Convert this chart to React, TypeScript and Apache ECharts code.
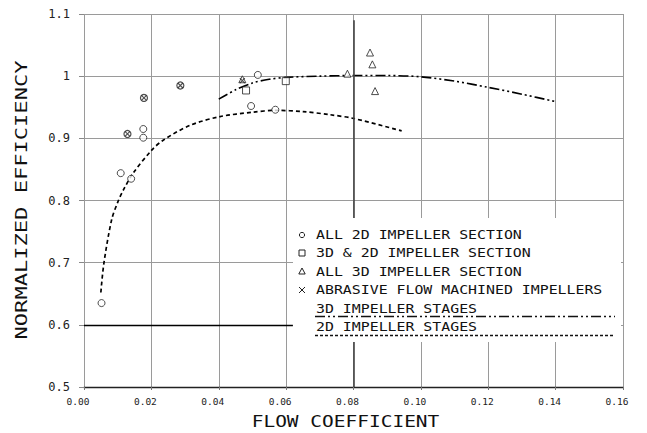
import React, { useEffect, useRef } from "react";
import * as echarts from "echarts";

// ---- data ----
const xTickValues = [0, 0.02, 0.04, 0.06, 0.08, 0.1, 0.12, 0.14, 0.16];
const yTickValues = [0.5, 0.6, 0.7, 0.8, 0.9, 1.0, 1.1];

const all2D = [
  [0.0052, 0.635], [0.0109, 0.844], [0.014, 0.835], [0.0176, 0.915],
  [0.0176, 0.901], [0.0496, 0.952], [0.0516, 1.002], [0.0568, 0.946],
];
const mixed3D2D = [[0.0481, 0.977], [0.0599, 0.992]];
const all3D = [
  [0.047, 0.995], [0.0782, 1.004], [0.0849, 1.038], [0.0856, 1.019], [0.0864, 0.976],
];
const abrasive = [[0.0129, 0.907], [0.0178, 0.965], [0.0286, 0.985], [0.047, 0.993]];
const abrasiveBase = [[0.0129, 0.907], [0.0178, 0.965], [0.0286, 0.985]];

const stages3D = [
  [0.04, 0.963], [0.045, 0.978], [0.05, 0.989], [0.055, 0.995], [0.06, 0.998],
  [0.07, 1.0], [0.08, 1.001], [0.09, 1.001], [0.1, 0.999], [0.11, 0.992],
  [0.12, 0.982], [0.13, 0.971], [0.14, 0.959],
];
const stages2D = [
  [0.005, 0.652], [0.0059, 0.699], [0.0082, 0.769], [0.01, 0.797], [0.0117, 0.817],
  [0.0146, 0.844], [0.0201, 0.881], [0.0235, 0.897], [0.0315, 0.921], [0.0404, 0.935],
  [0.05, 0.942], [0.057, 0.945], [0.065, 0.943], [0.073, 0.938], [0.08, 0.932],
  [0.0943, 0.912],
];

const legendLabels = [
  "ALL 2D IMPELLER SECTION",
  "3D & 2D IMPELLER SECTION",
  "ALL 3D IMPELLER SECTION",
  "ABRASIVE FLOW MACHINED IMPELLERS",
  "3D IMPELLER STAGES",
  "2D IMPELLER STAGES",
];
const xTitle = "FLOW COEFFICIENT";
const yTitle = "NORMALIZED EFFICIENCY";

const MONO = "DejaVu Sans Mono";
const DASH3D = [10, 3, 2, 3, 2, 3];
const DASH2D = [4, 3];
const CROSS = "path://M0,0L10,10M10,0L0,10";

export default function App() {
  const ref = useRef<HTMLDivElement>(null);
  useEffect(() => {
    if (!ref.current) return;
    const chart = echarts.init(ref.current, null, { renderer: "svg" });
    const rowY = [235, 253, 271.5, 290, 309, 327];
    const txt = (text: string, x: number, y: number) => ({
      type: "text",
      x,
      y,
      scaleX: 1.24,
      z: 101,
      style: { text, fontFamily: MONO, fontSize: 12, fill: "#111", align: "left", verticalAlign: "middle" },
    });
    const option: any = {
      animation: false,
      backgroundColor: "#fff",
      grid: { left: 84, right: 24, top: 14, bottom: 46 },
      xAxis: {
        type: "value",
        min: xTickValues[0],
        max: xTickValues[xTickValues.length - 1],
        interval: 0.02,
        axisLine: { show: true, onZero: false, lineStyle: { color: "#222", width: 1.3 } },
        axisTick: { show: true, length: 3, lineStyle: { color: "#777" } },
        axisLabel: {
          fontFamily: MONO,
          fontSize: 9.5,
          color: "#222",
          margin: 9,
          padding: [0, 12, 0, 0],
          formatter: (v: number) => v.toFixed(2),
        },
        splitLine: { show: true, lineStyle: { color: "#9a9a9a", width: 1 } },
      },
      yAxis: {
        type: "value",
        min: yTickValues[0],
        max: yTickValues[yTickValues.length - 1],
        interval: 0.1,
        axisLine: { show: false },
        axisTick: { show: true, length: 5, lineStyle: { color: "#888" } },
        axisLabel: {
          fontFamily: MONO,
          fontSize: 12,
          color: "#222",
          margin: 14,
          formatter: (v: number) => {
            const s = v.toFixed(1);
            return s === "1.0" ? "1" : s;
          },
        },
        splitLine: { show: true, lineStyle: { color: "#9a9a9a", width: 1 } },
      },
      series: [
        {
          name: "emphasis",
          type: "line",
          data: [],
          markLine: {
            silent: true,
            symbol: "none",
            label: { show: false },
            data: [
              [{ coord: [0.08, 1.09], lineStyle: { color: "#444", width: 1.6, type: "solid" } }, { coord: [0.08, 0.5] }],
              [{ coord: [0.1605, 0.962], lineStyle: { color: "#444", width: 1.6, type: "solid" } }, { coord: [0.1605, 0.5] }],
              [{ coord: [0, 0.6], lineStyle: { color: "#000", width: 1.4, type: "solid" } }, { coord: [0.062, 0.6] }],
            ],
          },
        },
        {
          name: legendLabels[4],
          type: "line",
          data: stages3D,
          smooth: 0.3,
          showSymbol: false,
          lineStyle: { color: "#000", width: 1.6, type: DASH3D },
        },
        {
          name: legendLabels[5],
          type: "line",
          data: stages2D,
          smooth: 0.3,
          showSymbol: false,
          lineStyle: { color: "#000", width: 1.7, type: DASH2D },
        },
        {
          name: legendLabels[0],
          type: "scatter",
          data: all2D,
          symbol: "circle",
          symbolSize: 7,
          itemStyle: { color: "#fff", borderColor: "#222", borderWidth: 1 },
          z: 5,
        },
        {
          name: legendLabels[1],
          type: "scatter",
          data: mixed3D2D,
          symbol: "rect",
          symbolSize: 7,
          itemStyle: { color: "#fff", borderColor: "#222", borderWidth: 1 },
          z: 5,
        },
        {
          name: legendLabels[2],
          type: "scatter",
          data: all3D,
          symbol: "triangle",
          symbolSize: 7,
          itemStyle: { color: "#fff", borderColor: "#222", borderWidth: 1 },
          z: 5,
        },
        {
          name: "abrasive base",
          type: "scatter",
          data: abrasiveBase,
          symbol: "circle",
          symbolSize: 7,
          itemStyle: { color: "#fff", borderColor: "#222", borderWidth: 1.2 },
          z: 5,
        },
        {
          name: legendLabels[3],
          type: "scatter",
          data: abrasive,
          symbol: CROSS,
          symbolSize: 5,
          itemStyle: { color: "none", borderColor: "#222", borderWidth: 1.1 },
          z: 6,
        },
      ],
      graphic: [
        { type: "rect", z: 100, shape: { x: 293, y: 218, width: 328, height: 124 }, style: { fill: "#fff" } },
        { type: "circle", z: 101, shape: { cx: 302, cy: rowY[0], r: 2.6 }, style: { fill: "none", stroke: "#222", lineWidth: 1 } },
        { type: "rect", z: 101, shape: { x: 299, y: rowY[1] - 3, width: 6, height: 6 }, style: { fill: "none", stroke: "#222", lineWidth: 1 } },
        {
          type: "polygon",
          z: 101,
          shape: { points: [[302, rowY[2] - 3.5], [298.8, rowY[2] + 2.5], [305.2, rowY[2] + 2.5]] },
          style: { fill: "none", stroke: "#222", lineWidth: 1 },
        },
        { type: "line", z: 101, shape: { x1: 299, y1: rowY[3] - 3, x2: 305, y2: rowY[3] + 3 }, style: { stroke: "#222", lineWidth: 1 } },
        { type: "line", z: 101, shape: { x1: 305, y1: rowY[3] - 3, x2: 299, y2: rowY[3] + 3 }, style: { stroke: "#222", lineWidth: 1 } },
        txt(legendLabels[0], 316, rowY[0]),
        txt(legendLabels[1], 316, rowY[1]),
        txt(legendLabels[2], 316, rowY[2]),
        txt(legendLabels[3], 316, rowY[3]),
        txt(legendLabels[4], 316, rowY[4]),
        txt(legendLabels[5], 316, rowY[5]),
        { type: "line", z: 101, shape: { x1: 315, y1: 316.5, x2: 615, y2: 316.5 }, style: { stroke: "#111", lineWidth: 1.6, lineDash: DASH3D } },
        { type: "line", z: 101, shape: { x1: 315, y1: 335.5, x2: 615, y2: 335.5 }, style: { stroke: "#111", lineWidth: 1.6, lineDash: [3, 2] } },
        {
          type: "text",
          x: 345.5,
          y: 422,
          scaleX: 1.3,
          style: { text: xTitle, fontFamily: MONO, fontSize: 15, fill: "#111", align: "center", verticalAlign: "middle" },
        },
        {
          type: "text",
          x: 22,
          y: 200,
          rotation: Math.PI / 2,
          scaleX: 1.38,
          style: { text: yTitle, fontFamily: MONO, fontSize: 16, fill: "#111", align: "center", verticalAlign: "middle" },
        },
      ],
    };
    chart.setOption(option);
    return () => chart.dispose();
  }, []);
  return (
    <div
      ref={ref}
      style={{ position: "fixed", left: 0, top: 0, width: 647, height: 433, background: "#fff" }}
    />
  );
}
